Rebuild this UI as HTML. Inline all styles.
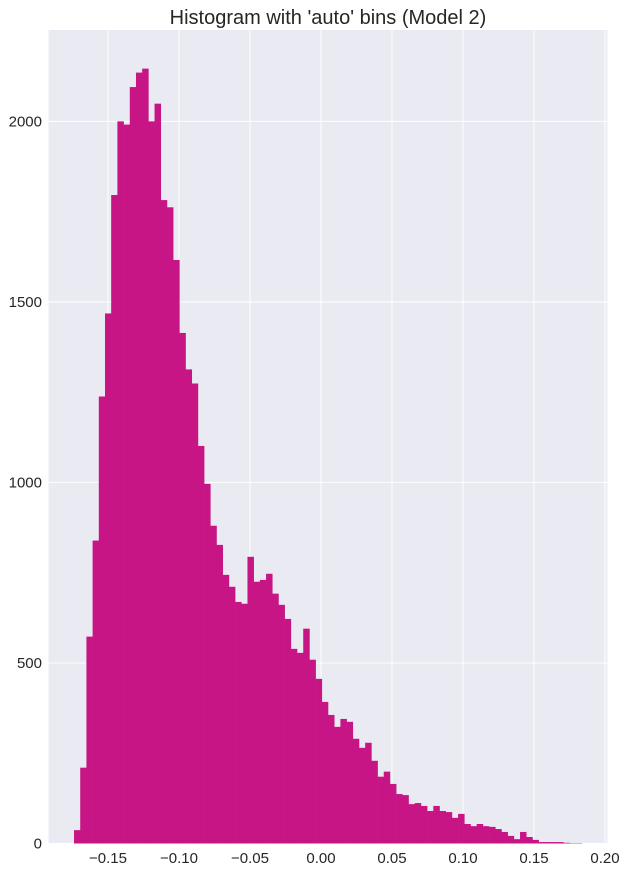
<!DOCTYPE html>
<html><head><meta charset="utf-8"><style>
body{margin:0;background:#fff;}
svg text{font-family:"Liberation Sans",Arial,sans-serif;fill:#262626;}
</style></head><body>
<svg id="chart" width="626" height="873" xmlns="http://www.w3.org/2000/svg">
<text x="328" y="24" font-size="20" text-anchor="middle">Histogram with 'auto' bins (Model 2)</text>
<rect x="48.6" y="30" width="558.8" height="813.5" fill="#eaeaf2"/>
<g id="grid"></g><g id="bars"></g><g id="ticks"></g>
</svg>
<script>
const binStart = -0.1739;
const binEnd = 0.1838;
const counts = [37,210,573,839,1238,1468,1796,2000,1991,2095,2135,2146,2000,2049,1782,1762,1616,1414,1313,1274,1101,996,880,827,744,711,669,664,794,725,730,747,692,661,622,539,528,595,509,456,392,356,323,345,337,290,265,279,229,185,199,165,137,134,109,112,104,90,104,90,87,71,82,54,48,54,48,46,40,32,21,12,32,18,10,4,4,4,4,2,1,1];
const xTicks = [-0.15,-0.10,-0.05,0.00,0.05,0.10,0.15,0.20];
const xTickLabels = ["−0.15","−0.10","−0.05","0.00","0.05","0.10","0.15","0.20"];
const yTicks = [0,500,1000,1500,2000];
const ns="http://www.w3.org/2000/svg";
const X0=48.6,X1=607.4,Y0=843.5,Y1=30;
const xmin=-0.1918, xmax=0.2017, ymax=2253;
const sx=v=>X0+(v-xmin)/(xmax-xmin)*(X1-X0);
const sy=v=>Y0-v/ymax*(Y0-Y1);
const grid=document.getElementById('grid'),bars=document.getElementById('bars'),ticks=document.getElementById('ticks');
function mk(t,a){const e=document.createElementNS(ns,t);for(const k in a)e.setAttribute(k,a[k]);return e;}
xTicks.forEach((v,i)=>{
  const l=mk('line',{x1:sx(v),x2:sx(v),y1:Y1,y2:Y0,stroke:'#fff','stroke-width':1});
  
  
  grid.appendChild(l);
  const t=mk('text',{x:sx(v),y:863,'font-size':15,'text-anchor':'middle'});
  
  
  t.textContent=xTickLabels[i];ticks.appendChild(t);
});
yTicks.forEach(v=>{
  const l=mk('line',{x1:X0,x2:X1,y1:sy(v),y2:sy(v),stroke:'#fff','stroke-width':1});
  
  
  grid.appendChild(l);
  const t=mk('text',{x:42,y:sy(v)+5,'font-size':15,'text-anchor':'end'});
  
  
  t.textContent=v;ticks.appendChild(t);
});
const w=(binEnd-binStart)/counts.length;
counts.forEach((c,i)=>{
  const a=binStart+i*w;
  const r=mk('rect',{x:sx(a),y:sy(c),width:sx(a+w)-sx(a)+0.3,height:Y0-sy(c),fill:'#c71585'});
  
  
  bars.appendChild(r);
});
</script>
</body></html>
